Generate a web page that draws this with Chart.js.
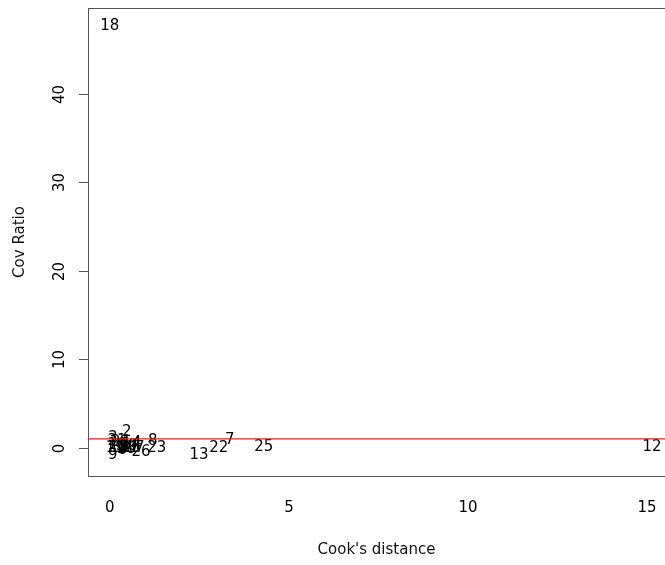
<!DOCTYPE html>
<html><head><meta charset="utf-8">
<script src="https://cdn.jsdelivr.net/npm/chart.js@4/dist/chart.umd.min.js"></script>
<style>html,body{margin:0;padding:0;background:#fff}#wrap{width:665px;height:565px;position:relative}</style>
</head><body><div id="wrap"><canvas id="c" width="665" height="565"></canvas></div>
<script>
// ---- data ----
const pointLabels   = ['1','2','3','4','5','6','7','8','9','10','11','12','13','14','15','16','17','18','19','20','21','22','23','24','25','26'];
const cooksDistance = [0.40,0.47,0.08,0.75,0.30,0.35,3.35,1.20,0.08,0.20,0.55,15.14,2.49,0.60,0.25,0.45,0.70,0.00,0.15,0.50,0.20,3.04,1.31,0.30,4.30,0.87];
const covRatio      = [0.10,1.80,1.10,0.55,0.20,-0.30,0.90,0.80,-0.80,0.30,0.00,0.10,-0.80,0.30,-0.10,-0.20,-0.10,47.60,0.00,0.20,0.80,0.00,-0.10,0.60,0.10,-0.45];
const refLineValue  = 1;
const xRange = [-0.61, 15.5];
const yRange = [-3.2, 49.7];
const xTickValues   = [0,5,10,15];
const yTickValues   = [0,10,20,30,40];
const xTitle = "Cook's distance";
const yTitle = 'Cov Ratio';

const FONT = 'DejaVu Sans';

const pts = cooksDistance.map((x,i)=>({x:x, y:covRatio[i], label:pointLabels[i]}));
const refPts = xRange.map(x=>({x:x, y:refLineValue}));

const decor = {
  id:'decor',
  beforeDatasetsDraw(chart){
    const {ctx, chartArea:a, scales:{x, y}} = chart;
    ctx.save();
    // text labels at points
    ctx.fillStyle = '#000';
    ctx.font = '15px "' + FONT + '"';
    ctx.textAlign = 'center'; ctx.textBaseline = 'middle';
    chart.data.datasets[0].data.forEach(p=>{
      ctx.fillText(p.label, x.getPixelForValue(p.x), y.getPixelForValue(p.y));
    });
    // box
    ctx.strokeStyle = '#555'; ctx.lineWidth = 1;
    ctx.strokeRect(Math.round(a.left)+0.5, Math.round(a.top)+0.5, a.right - a.left + 4, Math.round(a.bottom - a.top));
    // y ticks + rotated labels
    ctx.fillStyle = '#000';
    yTickValues.forEach(v=>{
      const py = Math.round(y.getPixelForValue(v)) + 0.5;
      ctx.beginPath(); ctx.moveTo(a.left - 9, py); ctx.lineTo(a.left, py); ctx.stroke();
      ctx.save();
      ctx.translate(a.left - 28, py);
      ctx.rotate(-Math.PI/2);
      ctx.textAlign = 'center'; ctx.textBaseline = 'middle';
      ctx.fillText(String(v), 0, 0);
      ctx.restore();
    });
    ctx.restore();
  }
};

new Chart(document.getElementById('c'), {
  type:'scatter',
  data:{datasets:[
    {data:pts, pointRadius:0, pointHoverRadius:0, showLine:false},
    {data:refPts, showLine:true, borderColor:'rgb(235,30,30)', borderWidth:1.3, pointRadius:0, fill:false}
  ]},
  options:{
    responsive:false, animation:false, devicePixelRatio:1,
    layout:{padding:{top:8, right:0, left:0, bottom:0}},
    plugins:{legend:{display:false}, tooltip:{enabled:false}},
    scales:{
      x:{type:'linear', min:xRange[0], max:xRange[1],
        afterBuildTicks(s){ s.ticks = xTickValues.map(v=>({value:v})); },
        afterFit(s){ s.height = 89; s.paddingLeft = 0; s.paddingRight = 0; },
        grid:{display:false, drawTicks:false}, border:{display:false},
        ticks:{color:'#000', font:{family:FONT, size:15}, padding:23, maxRotation:0, autoSkip:false},
        title:{display:true, text:xTitle, color:'#111', font:{family:FONT, size:15}, padding:{top:0,bottom:6}}
      },
      y:{type:'linear', min:yRange[0], max:yRange[1],
        afterBuildTicks(s){ s.ticks = yTickValues.map(v=>({value:v})); },
        afterFit(s){ s.width = 88; s.paddingTop = 0; s.paddingBottom = 0; },
        grid:{display:false, drawTicks:false}, border:{display:false},
        ticks:{display:false},
        title:{display:true, text:yTitle, color:'#111', font:{family:FONT, size:15}, padding:{top:11,bottom:0}}
      }
    }
  },
  plugins:[decor]
});
</script></body></html>
